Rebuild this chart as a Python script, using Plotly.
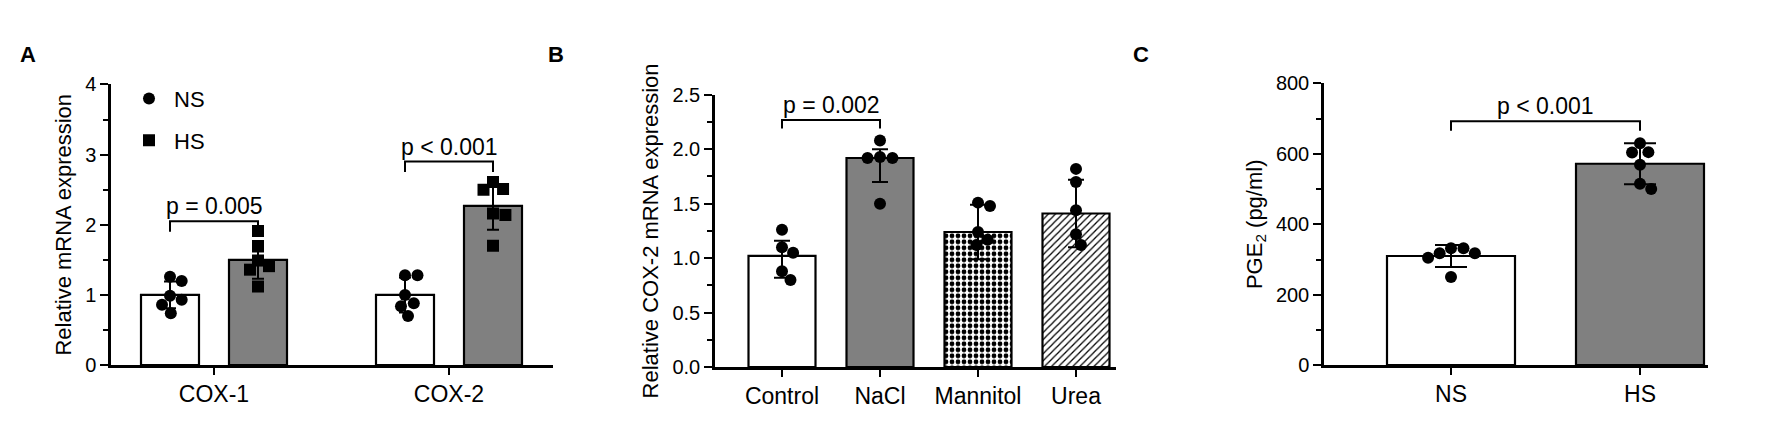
import numpy as np
import plotly.graph_objects as go

W, H = 1787, 425

# ---------------- data ----------------
# Panel A
a_genes = ["COX-1", "COX-2"]
a_groups = ["NS", "HS"]
a_ns_points = [[1.26, 1.20, 0.93, 0.99, 0.86, 0.74],
               [1.28, 1.28, 1.00, 0.88, 0.84, 0.70]]
a_hs_points = [[1.91, 1.69, 1.41, 1.36, 1.49, 1.12],
               [2.61, 2.50, 2.51, 2.16, 2.14, 1.70]]
a_ns_mean = [1.00, 1.00]
a_hs_mean = [1.50, 2.27]
a_ns_sd = [0.19, 0.25]
a_hs_sd = [0.27, 0.34]
a_pvals = ["p = 0.005", "p < 0.001"]
a_bracket_y = [2.05, 2.90]
a_yticks = [0, 1, 2, 3, 4]

# Panel B
b_cats = ["Control", "NaCl", "Mannitol", "Urea"]
b_points = [[1.26, 1.10, 1.05, 0.88, 0.80],
            [2.08, 1.92, 1.93, 1.92, 1.50],
            [1.51, 1.48, 1.24, 1.12, 1.17],
            [1.82, 1.70, 1.44, 1.22, 1.12]]
b_mean = [1.02, 1.92, 1.24, 1.41]
b_err_up = [0.14, 0.08, 0.25, 0.31]
b_err_down = [0.20, 0.22, 0.25, 0.31]
b_pval = "p = 0.002"
b_bracket = (0, 1, 2.27)
b_yticks = [0.0, 0.5, 1.0, 1.5, 2.0, 2.5]

# Panel C
c_groups = ["NS", "HS"]
c_points = [[332, 318, 305, 318, 332, 250],
            [630, 604, 605, 569, 515, 500]]
c_mean = [310, 572]
c_sd = [31, 58]
c_pval = "p < 0.001"
c_bracket_y = 693
c_yticks = [0, 200, 400, 600, 800]

# ---------------- layout geometry (pixels) ----------------
FONT = "Arial, Liberation Sans, sans-serif"
GRAY = "#808080"
TICK_FS, CAT_FS, TITLE_FS, P_FS = 20, 23, 22, 23
boxes = {
    "A": dict(x0=103, x1=545, yb=365, yt=69, yr=(0, 4), xc=206, xstep=235),
    "B": dict(x0=707, x1=1108, yb=367, yt=80, yr=(0, 2.5), xc=774, xstep=98),
    "C": dict(x0=1316, x1=1700, yb=365, yt=68, yr=(0, 800), xc=1443, xstep=189),
}
for b in boxes.values():
    b["xr"] = ((b["x0"] - b["xc"]) / b["xstep"], (b["x1"] - b["xc"]) / b["xstep"])
    b["ypx"] = (b["yb"] - b["yt"]) / (b["yr"][1] - b["yr"][0])


def swarm(vals, ypx, xstep, diam):
    """simple beeswarm: returns x offsets in data units"""
    vals = list(vals)
    order = sorted(range(len(vals)), key=lambda i: -vals[i])
    placed, out = [], [0.0] * len(vals)
    for i in order:
        y = vals[i] * ypx
        cands = [0.0]
        for px, py in placed:
            dy = abs(y - py)
            if dy < diam:
                dx = (diam ** 2 - dy ** 2) ** 0.5
                cands += [px + dx, px - dx]
        cands.sort(key=abs)
        for c in cands:
            if all((c - px) ** 2 + (y - py) ** 2 >= diam ** 2 - 1e-6 for px, py in placed):
                out[i] = c
                placed.append((c, y))
                break
    return [o / xstep for o in out]


fig = go.Figure()

# ---------------- Panel A ----------------
bA = boxes["A"]
offA = 44 / bA["xstep"]
wA = 58 / bA["xstep"]
xg = np.arange(len(a_genes))
for gi, (grp, means, sds, pts, fill, sym) in enumerate([
        ("NS", a_ns_mean, a_ns_sd, a_ns_points, "white", "circle"),
        ("HS", a_hs_mean, a_hs_sd, a_hs_points, GRAY, "square")]):
    off = -offA if gi == 0 else offA
    fig.add_trace(go.Bar(
        x=xg + off, y=means, width=wA, xaxis="x", yaxis="y",
        marker=dict(color=fill, line=dict(color="black", width=2.2)),
        error_y=dict(type="data", array=sds, color="black", thickness=2, width=6),
        showlegend=False, hoverinfo="skip"))
    xs, ys = [], []
    for k, p in enumerate(pts):
        o = swarm(p, bA["ypx"], bA["xstep"], 12.5)
        xs += [k + off + d for d in o]
        ys += p
    fig.add_trace(go.Scatter(
        x=xs, y=ys, mode="markers", name=grp, xaxis="x", yaxis="y",
        legendgroup=grp,
        marker=dict(symbol=sym, size=12, color="black"),
        hoverinfo="skip"))

# brackets A
dropA = 11 / bA["ypx"]
for k, (txt, by) in enumerate(zip(a_pvals, a_bracket_y)):
    xl, xr = k - offA, k + offA
    fig.add_trace(go.Scatter(x=[xl, xl, xr, xr], y=[by - dropA, by, by, by - dropA],
                             mode="lines", line=dict(color="black", width=2),
                             xaxis="x", yaxis="y", showlegend=False, hoverinfo="skip"))
    fig.add_annotation(x=(xl + xr) / 2, y=by, xref="x", yref="y", text=txt,
                       showarrow=False, yanchor="bottom", yshift=0,
                       font=dict(size=P_FS, color="black", family=FONT))

# ---------------- Panel B ----------------
bB = boxes["B"]
wB = 67 / bB["xstep"]
xb = np.arange(len(b_cats))
fills = ["white", GRAY, "white", "white"]
shapes_pat = ["", "", ".", "/"]
for i in range(len(b_cats)):
    pat = dict(shape=shapes_pat[i], fgcolor="black", bgcolor="white",
               size=6 if shapes_pat[i] == "." else 5,
               solidity=0.5 if shapes_pat[i] == "." else 0.25,
               fillmode="replace") if shapes_pat[i] else None
    fig.add_trace(go.Bar(
        x=[xb[i]], y=[b_mean[i]], width=wB, xaxis="x2", yaxis="y2",
        marker=dict(color=fills[i], line=dict(color="black", width=2.2), pattern=pat),
        error_y=dict(type="data", symmetric=False, array=[b_err_up[i]],
                     arrayminus=[b_err_down[i]], color="black", thickness=2, width=8),
        showlegend=False, hoverinfo="skip"))
xs, ys = [], []
for i, p in enumerate(b_points):
    o = swarm(p, bB["ypx"], bB["xstep"], 12.5)
    xs += [i + d for d in o]
    ys += p
fig.add_trace(go.Scatter(x=xs, y=ys, mode="markers", xaxis="x2", yaxis="y2",
                         marker=dict(symbol="circle", size=12, color="black"),
                         showlegend=False, hoverinfo="skip"))
dropB = 9 / bB["ypx"]
xl, xr, by = b_bracket
fig.add_trace(go.Scatter(x=[xl, xl, xr, xr], y=[by - dropB, by, by, by - dropB],
                         mode="lines", line=dict(color="black", width=2),
                         xaxis="x2", yaxis="y2", showlegend=False, hoverinfo="skip"))
fig.add_annotation(x=(xl + xr) / 2, y=by, xref="x2", yref="y2", text=b_pval,
                   showarrow=False, yanchor="bottom", yshift=0,
                   font=dict(size=P_FS, color="black", family=FONT))

# ---------------- Panel C ----------------
bC = boxes["C"]
wC = 128 / bC["xstep"]
xcg = np.arange(len(c_groups))
fig.add_trace(go.Bar(
    x=xcg, y=c_mean, width=wC, xaxis="x3", yaxis="y3",
    marker=dict(color=["white", GRAY], line=dict(color="black", width=2.2)),
    error_y=dict(type="data", array=c_sd, color="black", thickness=2, width=16),
    showlegend=False, hoverinfo="skip"))
xs, ys = [], []
for i, p in enumerate(c_points):
    o = swarm(p, bC["ypx"], bC["xstep"], 12.5)
    xs += [i + d for d in o]
    ys += p
fig.add_trace(go.Scatter(x=xs, y=ys, mode="markers", xaxis="x3", yaxis="y3",
                         marker=dict(symbol="circle", size=12, color="black"),
                         showlegend=False, hoverinfo="skip"))
dropC = 10 / bC["ypx"]
fig.add_trace(go.Scatter(x=[0, 0, 1, 1],
                         y=[c_bracket_y - dropC, c_bracket_y, c_bracket_y, c_bracket_y - dropC],
                         mode="lines", line=dict(color="black", width=2),
                         xaxis="x3", yaxis="y3", showlegend=False, hoverinfo="skip"))
fig.add_annotation(x=0.5, y=c_bracket_y, xref="x3", yref="y3", text=c_pval,
                   showarrow=False, yanchor="bottom", yshift=0,
                   font=dict(size=P_FS, color="black", family=FONT))

# ---------------- axes ----------------
def xaxis_cfg(b, ticktext):
    return dict(domain=[b["x0"] / W, b["x1"] / W], range=list(b["xr"]),
                tickvals=list(range(len(ticktext))), ticktext=ticktext,
                showline=True, linecolor="black", linewidth=2.5,
                ticks="outside", ticklen=7, tickwidth=2, tickcolor="black",
                showgrid=False, zeroline=False, fixedrange=True,
                tickfont=dict(size=CAT_FS, color="black", family=FONT))


def yaxis_cfg(b, anchor, tickvals, ticktext, title, minor_dt):
    return dict(domain=[1 - b["yb"] / H, 1 - b["yt"] / H], range=list(b["yr"]),
                anchor=anchor, tickvals=tickvals, ticktext=ticktext,
                showline=True, linecolor="black", linewidth=2.5,
                ticks="outside", ticklen=8, tickwidth=2, tickcolor="black",
                minor=dict(dtick=minor_dt, ticks="outside", ticklen=5, tickwidth=2,
                           tickcolor="black", showgrid=False),
                showgrid=False, zeroline=False, fixedrange=True,
                tickfont=dict(size=TICK_FS, color="black", family=FONT),
                title=dict(text=title, standoff=8,
                           font=dict(size=TITLE_FS, color="black", family=FONT)))


fig.update_layout(
    width=W, height=H, autosize=False,
    margin=dict(l=0, r=0, t=0, b=0),
    paper_bgcolor="white", plot_bgcolor="white",
    font=dict(family=FONT, color="black"),
    barmode="overlay",
    xaxis=dict(**xaxis_cfg(bA, a_genes), anchor="y"),
    yaxis=yaxis_cfg(bA, "x", a_yticks, [str(v) for v in a_yticks],
                    "Relative mRNA expression", 0.5),
    xaxis2=dict(**xaxis_cfg(bB, b_cats), anchor="y2"),
    yaxis2=yaxis_cfg(bB, "x2", b_yticks, [f"{v:.1f}" for v in b_yticks],
                     "Relative COX-2 mRNA expression", 0.25),
    xaxis3=dict(**xaxis_cfg(bC, c_groups), anchor="y3"),
    yaxis3=yaxis_cfg(bC, "x3", c_yticks, [str(v) for v in c_yticks],
                     "PGE<sub>2</sub> (pg/ml)", 100),
    showlegend=True,
    legend=dict(x=116 / W, y=1 - 62 / H, xanchor="left", yanchor="top",
                bgcolor="rgba(0,0,0,0)", tracegroupgap=10, itemwidth=40,
                font=dict(size=22, color="black", family=FONT)),
)

for letter, xpx in [("A", 20), ("B", 548), ("C", 1133)]:
    fig.add_annotation(x=xpx / W, y=1 - 37 / H, xref="paper", yref="paper",
                       xanchor="center", yanchor="middle",
                       text=f"<b>{letter}</b>", showarrow=False,
                       font=dict(size=22, color="black", family=FONT))

fig.write_html("out.html")
